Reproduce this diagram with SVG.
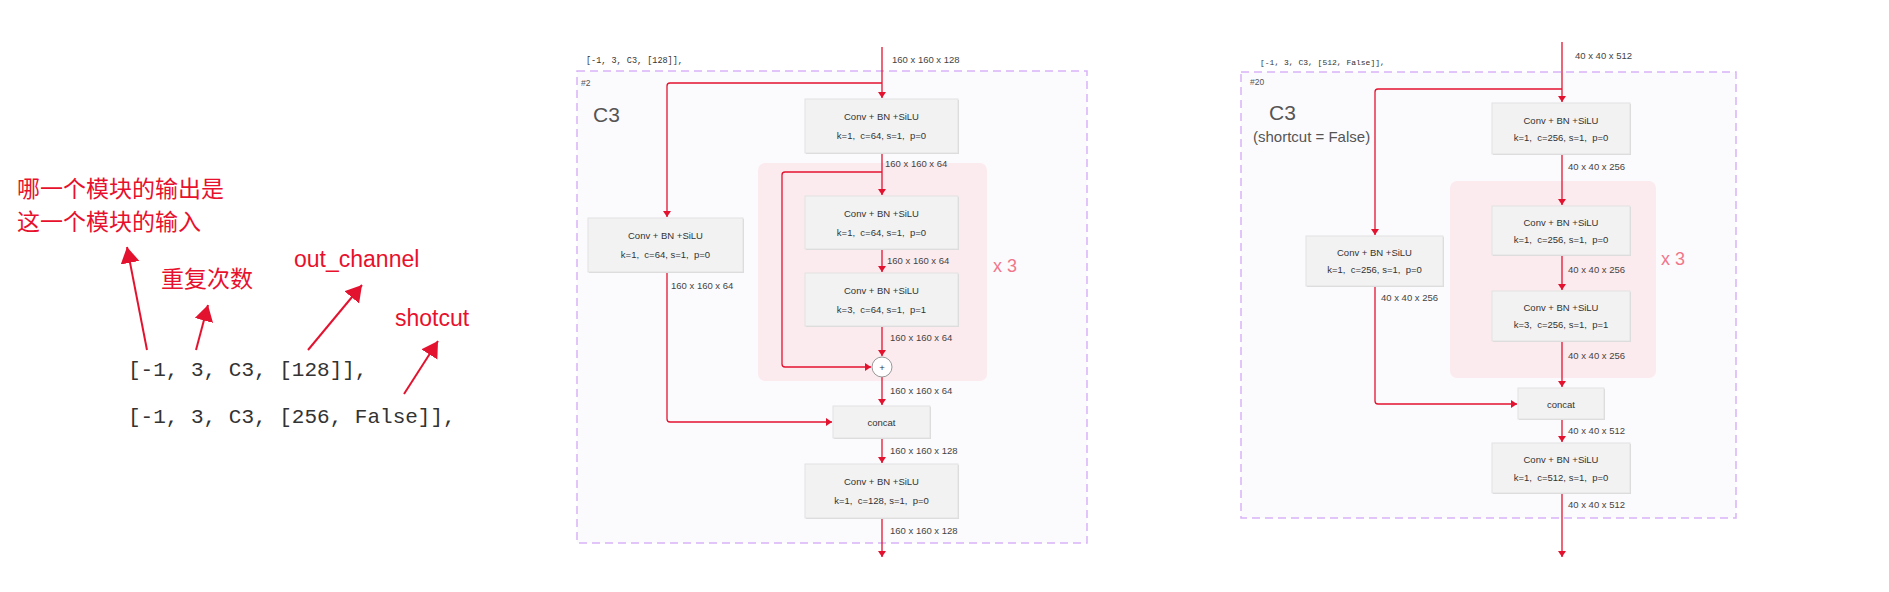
<svg xmlns="http://www.w3.org/2000/svg" width="1889" height="592" viewBox="0 0 1889 592">
<defs>
<style>
.ann{font-family:"Liberation Sans","Noto Sans CJK SC",sans-serif;font-size:23px;fill:#e8112d}
.code{font-family:"Liberation Mono",monospace;font-size:21px;fill:#333}
.mono{font-family:"Liberation Mono",monospace;font-size:8.5px;fill:#333}
.tag{font-family:"Liberation Sans",sans-serif;font-size:8.5px;fill:#555}
.title{font-family:"Liberation Sans",sans-serif;font-size:21px;fill:#555}
.sub{font-family:"Liberation Sans",sans-serif;font-size:15px;fill:#555}
.frame{fill:#fbfbfe;stroke:#d9b3f7;stroke-width:1.5;stroke-dasharray:8 5}
.pink{fill:#fcebee}
.box{fill:#f2f2f2;stroke:#e2e2e2;stroke-width:1}
.shadow{fill:#d8d8d8}
.bt{font-family:"Liberation Sans",sans-serif;font-size:9.5px;fill:#333;text-anchor:middle;white-space:pre}
.dim{font-family:"Liberation Sans",sans-serif;font-size:9.5px;fill:#444}
.rep{font-family:"Liberation Sans",sans-serif;font-size:18px;fill:#f2768a}
.c{fill:none;stroke:#e3132f;stroke-width:1.3}
.a{fill:none;stroke:#e3132f;stroke-width:2}
</style>
<marker id="ah" markerUnits="userSpaceOnUse" markerWidth="7" markerHeight="9" refX="6" refY="4" orient="auto">
<path d="M0,0 L6,4 L0,8 z" fill="#e3132f"/>
</marker>
<marker id="big" markerUnits="userSpaceOnUse" markerWidth="18" markerHeight="20" refX="16" refY="9.5" orient="auto">
<path d="M0,0 L16,9.5 L0,19 z" fill="#e3132f"/>
</marker>
</defs>
<rect width="1889" height="592" fill="#ffffff"/>

<g id="annotations">
<text class="ann" x="17" y="197">哪一个模块的输出是</text>
<text class="ann" x="17" y="230">这一个模块的输入</text>
<text class="ann" x="161" y="287">重复次数</text>
<text class="ann" x="294" y="267">out_channel</text>
<text class="ann" x="395" y="326">shotcut</text>
<text class="code" x="128" y="376">[-1, 3, C3, [128]],</text>
<text class="code" x="128" y="423">[-1, 3, C3, [256, False]],</text>
<line class="a" x1="147" y1="350" x2="127" y2="247" marker-end="url(#big)"/>
<line class="a" x1="196" y1="350" x2="208" y2="305" marker-end="url(#big)"/>
<line class="a" x1="308" y1="350" x2="362" y2="285" marker-end="url(#big)"/>
<line class="a" x1="404" y1="394" x2="438" y2="341" marker-end="url(#big)"/>
</g>

<!-- Left diagram -->
<g id="frame-left">
<rect class="frame" x="577" y="71" width="510" height="472"/>
<text class="mono" x="586" y="63">[-1, 3, C3, [128]],</text>
<text class="tag" x="581" y="86">#2</text>
<text class="title" x="593" y="122">C3</text>
<rect class="pink" x="758" y="163" width="229" height="218" rx="7"/>
<text class="rep" x="993" y="272">x 3</text>
</g>

<g id="connectors-left">
<path class="c" d="M882,47 V98" marker-end="url(#ah)"/>
<path class="c" d="M882,83 H670 Q667,83 667,86 V217" marker-end="url(#ah)"/>
<path class="c" d="M882,153 V195" marker-end="url(#ah)"/>
<path class="c" d="M882,172 H785 Q782,172 782,175 V364 Q782,367 785,367 H871" marker-end="url(#ah)"/>
<path class="c" d="M882,249 V272" marker-end="url(#ah)"/>
<path class="c" d="M882,326 V356" marker-end="url(#ah)"/>
<path class="c" d="M882,377 V405" marker-end="url(#ah)"/>
<path class="c" d="M667,272 V419 Q667,422 670,422 H832" marker-end="url(#ah)"/>
<path class="c" d="M882,438 V463" marker-end="url(#ah)"/>
<path class="c" d="M882,518 V557" marker-end="url(#ah)"/>
<text class="dim" x="892" y="63">160 x 160 x 128</text>
<text class="dim" x="885" y="167">160 x 160 x 64</text>
<text class="dim" x="887" y="264">160 x 160 x 64</text>
<text class="dim" x="890" y="341">160 x 160 x 64</text>
<text class="dim" x="890" y="394">160 x 160 x 64</text>
<text class="dim" x="890" y="454">160 x 160 x 128</text>
<text class="dim" x="890" y="534">160 x 160 x 128</text>
<text class="dim" x="671" y="289">160 x 160 x 64</text>
</g>

<g id="L-cv1">
<rect class="shadow" x="806" y="100" width="153" height="54"/>
<rect class="box" x="805" y="99" width="153" height="54"/>
<text class="bt" x="881.5" y="120">Conv + BN +SiLU</text>
<text class="bt" x="881.5" y="139">k=1,  c=64, s=1,  p=0</text>
</g>
<g id="L-m1">
<rect class="shadow" x="806" y="197" width="153" height="53"/>
<rect class="box" x="805" y="196" width="153" height="53"/>
<text class="bt" x="881.5" y="216.5">Conv + BN +SiLU</text>
<text class="bt" x="881.5" y="235.5">k=1,  c=64, s=1,  p=0</text>
</g>
<g id="L-m2">
<rect class="shadow" x="806" y="274" width="153" height="53"/>
<rect class="box" x="805" y="273" width="153" height="53"/>
<text class="bt" x="881.5" y="293.5">Conv + BN +SiLU</text>
<text class="bt" x="881.5" y="312.5">k=3,  c=64, s=1,  p=1</text>
</g>
<g id="L-add">
<circle cx="882" cy="367" r="10" fill="#ffffff" stroke="#999" stroke-width="1"/>
<text class="bt" x="882" y="370.5">+</text>
</g>
<g id="L-cv2">
<rect class="shadow" x="589" y="219" width="155" height="54"/>
<rect class="box" x="588" y="218" width="155" height="54"/>
<text class="bt" x="665.5" y="239">Conv + BN +SiLU</text>
<text class="bt" x="665.5" y="258">k=1,  c=64, s=1,  p=0</text>
</g>
<g id="L-concat">
<rect class="shadow" x="834" y="407" width="97" height="32"/>
<rect class="box" x="833" y="406" width="97" height="32"/>
<text class="bt" x="881.5" y="425.5">concat</text>
</g>
<g id="L-cv3">
<rect class="shadow" x="806" y="465" width="153" height="54"/>
<rect class="box" x="805" y="464" width="153" height="54"/>
<text class="bt" x="881.5" y="485">Conv + BN +SiLU</text>
<text class="bt" x="881.5" y="504">k=1,  c=128, s=1,  p=0</text>
</g>

<!-- Right diagram -->
<g id="frame-right">
<rect class="frame" x="1241" y="72" width="495" height="446"/>
<text class="mono" x="1260" y="65" style="font-size:8px">[-1, 3, C3, [512, False]],</text>
<text class="tag" x="1250" y="85">#20</text>
<text class="title" x="1269" y="120">C3</text>
<text class="sub" x="1253" y="142">(shortcut = False)</text>
<rect class="pink" x="1450" y="181" width="206" height="197" rx="7"/>
<text class="rep" x="1661" y="265">x 3</text>
</g>

<g id="connectors-right">
<path class="c" d="M1562,42 V102" marker-end="url(#ah)"/>
<path class="c" d="M1562,89 H1378 Q1375,89 1375,92 V235" marker-end="url(#ah)"/>
<path class="c" d="M1562,154 V205" marker-end="url(#ah)"/>
<path class="c" d="M1562,255 V290" marker-end="url(#ah)"/>
<path class="c" d="M1562,341 V387" marker-end="url(#ah)"/>
<path class="c" d="M1375,286 V401 Q1375,404 1378,404 H1517" marker-end="url(#ah)"/>
<path class="c" d="M1562,419 V442" marker-end="url(#ah)"/>
<path class="c" d="M1562,493 V557" marker-end="url(#ah)"/>
<text class="dim" x="1575" y="59">40 x 40 x 512</text>
<text class="dim" x="1568" y="170">40 x 40 x 256</text>
<text class="dim" x="1568" y="273">40 x 40 x 256</text>
<text class="dim" x="1568" y="359">40 x 40 x 256</text>
<text class="dim" x="1568" y="434">40 x 40 x 512</text>
<text class="dim" x="1568" y="508">40 x 40 x 512</text>
<text class="dim" x="1381" y="301">40 x 40 x 256</text>
</g>

<g id="R-cv1">
<rect class="shadow" x="1493" y="104" width="138" height="51"/>
<rect class="box" x="1492" y="103" width="138" height="51"/>
<text class="bt" x="1561" y="123.5">Conv + BN +SiLU</text>
<text class="bt" x="1561" y="140.5">k=1,  c=256, s=1,  p=0</text>
</g>
<g id="R-m1">
<rect class="shadow" x="1493" y="207" width="138" height="49"/>
<rect class="box" x="1492" y="206" width="138" height="49"/>
<text class="bt" x="1561" y="225.5">Conv + BN +SiLU</text>
<text class="bt" x="1561" y="242.5">k=1,  c=256, s=1,  p=0</text>
</g>
<g id="R-m2">
<rect class="shadow" x="1493" y="292" width="138" height="50"/>
<rect class="box" x="1492" y="291" width="138" height="50"/>
<text class="bt" x="1561" y="310.5">Conv + BN +SiLU</text>
<text class="bt" x="1561" y="327.5">k=3,  c=256, s=1,  p=1</text>
</g>
<g id="R-cv2">
<rect class="shadow" x="1307" y="237" width="137" height="50"/>
<rect class="box" x="1306" y="236" width="137" height="50"/>
<text class="bt" x="1374.5" y="255.5">Conv + BN +SiLU</text>
<text class="bt" x="1374.5" y="272.5">k=1,  c=256, s=1,  p=0</text>
</g>
<g id="R-concat">
<rect class="shadow" x="1519" y="389" width="86" height="31"/>
<rect class="box" x="1518" y="388" width="86" height="31"/>
<text class="bt" x="1561" y="407.5">concat</text>
</g>
<g id="R-cv3">
<rect class="shadow" x="1493" y="444" width="138" height="50"/>
<rect class="box" x="1492" y="443" width="138" height="50"/>
<text class="bt" x="1561" y="462.5">Conv + BN +SiLU</text>
<text class="bt" x="1561" y="480.5">k=1,  c=512, s=1,  p=0</text>
</g>
</svg>
